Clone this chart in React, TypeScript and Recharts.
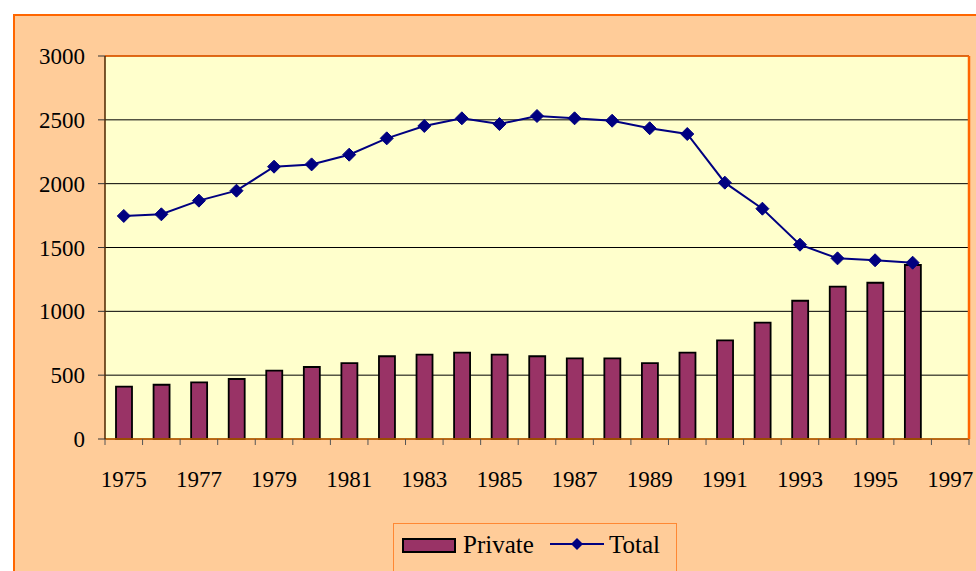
import React from "react";
import { ComposedChart, Bar, Line, XAxis, YAxis, CartesianGrid, ReferenceLine } from "recharts";

const years = [1975, 1976, 1977, 1978, 1979, 1980, 1981, 1982, 1983, 1984, 1985, 1986, 1987, 1988, 1989, 1990, 1991, 1992, 1993, 1994, 1995, 1996, 1997];
const privateValues = [410, 425, 444, 470, 535, 564, 595, 648, 661, 676, 661, 648, 632, 632, 595, 676, 773, 911, 1083, 1193, 1224, 1363, null];
const totalValues = [1747, 1760, 1867, 1945, 2133, 2151, 2227, 2355, 2452, 2512, 2467, 2530, 2512, 2493, 2434, 2389, 2008, 1804, 1522, 1415, 1400, 1381, null];
const xTickLabels = [1975, 1977, 1979, 1981, 1983, 1985, 1987, 1989, 1991, 1993, 1995, 1997];
const yTicks = [0, 500, 1000, 1500, 2000, 2500, 3000];

const data = years.map((year, i) => ({ year, private: privateValues[i], total: totalValues[i] }));
// tick marks sit between the categories
const boundaries = [...years.map(y => y - 0.5), years[years.length - 1] + 0.5];

const FONT = '"Liberation Serif", "Times New Roman", serif';

const Diamond = (props: any) => {
    const { cx, cy } = props;
    if (cx == null || cy == null) return null;
    const r = 6.5;
    return <polygon points={`${cx},${cy - r} ${cx + r},${cy} ${cx},${cy + r} ${cx - r},${cy}`} fill="#000080" stroke="#000080" />;
};

export default function App() {
    return (
        <div style={{ position: "absolute", left: 0, top: 0, width: 976, height: 571, overflow: "hidden", background: "#fff" }}>
            {/* outer frame */}
            <div style={{ position: "absolute", left: 13, top: 14, width: 1000, height: 600, border: "2px solid #FF6600", background: "#FFCC99" }} />

            <div style={{ position: "absolute", left: 0, top: 0 }}>
                <ComposedChart width={976} height={571} data={data} margin={{ top: 56, right: 0, left: 0, bottom: 82 }}>
                    <CartesianGrid vertical={false} stroke="#000" fill="#FFFFCC" fillOpacity={1} />
                    <XAxis
                        xAxisId={0}
                        type="number"
                        dataKey="year"
                        domain={[1974.5, 1997.5]}
                        ticks={boundaries}
                        tickFormatter={() => ""}
                        interval={0}
                        height={10}
                        tickSize={6}
                        axisLine={{ stroke: "#CC6600", strokeWidth: 1.5 }}
                        tickLine={{ stroke: "#555" }}
                    />
                    <XAxis
                        xAxisId="labels"
                        type="number"
                        dataKey="year"
                        domain={[1974.5, 1997.5]}
                        ticks={xTickLabels}
                        interval={0}
                        height={40}
                        axisLine={false}
                        tickLine={false}
                        tickSize={0}
                        tickMargin={22}
                        tick={{ fill: "#000", fontSize: 23, fontFamily: FONT }}
                    />
                    <YAxis
                        yAxisId={0}
                        domain={[0, 3000]}
                        ticks={yTicks}
                        interval={0}
                        width={105}
                        tickSize={7}
                        tickMargin={13}
                        axisLine={{ stroke: "#4d2600", strokeWidth: 1.5 }}
                        tickLine={{ stroke: "#333" }}
                        tick={{ fill: "#000", fontSize: 23, fontFamily: FONT }}
                    />
                    <YAxis
                        yAxisId="right"
                        orientation="right"
                        domain={[0, 3000]}
                        width={7}
                        tick={false}
                        tickLine={false}
                        axisLine={{ stroke: "#FF6600", strokeWidth: 2.5 }}
                    />
                    <ReferenceLine y={3000} stroke="#FF6600" strokeWidth={1.5} />
                    <Bar dataKey="private" fill="#993366" stroke="#000" strokeWidth={1.8} barSize={16} isAnimationActive={false} />
                    <Line
                        dataKey="total"
                        stroke="#000080"
                        strokeWidth={2}
                        dot={<Diamond />}
                        activeDot={false}
                        isAnimationActive={false}
                    />
                </ComposedChart>
            </div>

            {/* legend */}
            <div style={{ position: "absolute", left: 393, top: 523, width: 282, height: 60, border: "1px solid #FF8833", fontFamily: FONT, fontSize: 25, color: "#000" }}>
                <div style={{ position: "absolute", left: 8, top: 14, width: 50, height: 11, background: "#993366", border: "2px solid #000" }} />
                <span style={{ position: "absolute", left: 69, top: 7, lineHeight: "28px" }}>Private</span>
                <svg style={{ position: "absolute", left: 155, top: 12 }} width={56} height={16}>
                    <line x1={1} y1={8} x2={55} y2={8} stroke="#000080" strokeWidth={2} />
                    <polygon points="28,2 34,8 28,14 22,8" fill="#000080" />
                </svg>
                <span style={{ position: "absolute", left: 215, top: 7, lineHeight: "28px" }}>Total</span>
            </div>
        </div>
    );
}
